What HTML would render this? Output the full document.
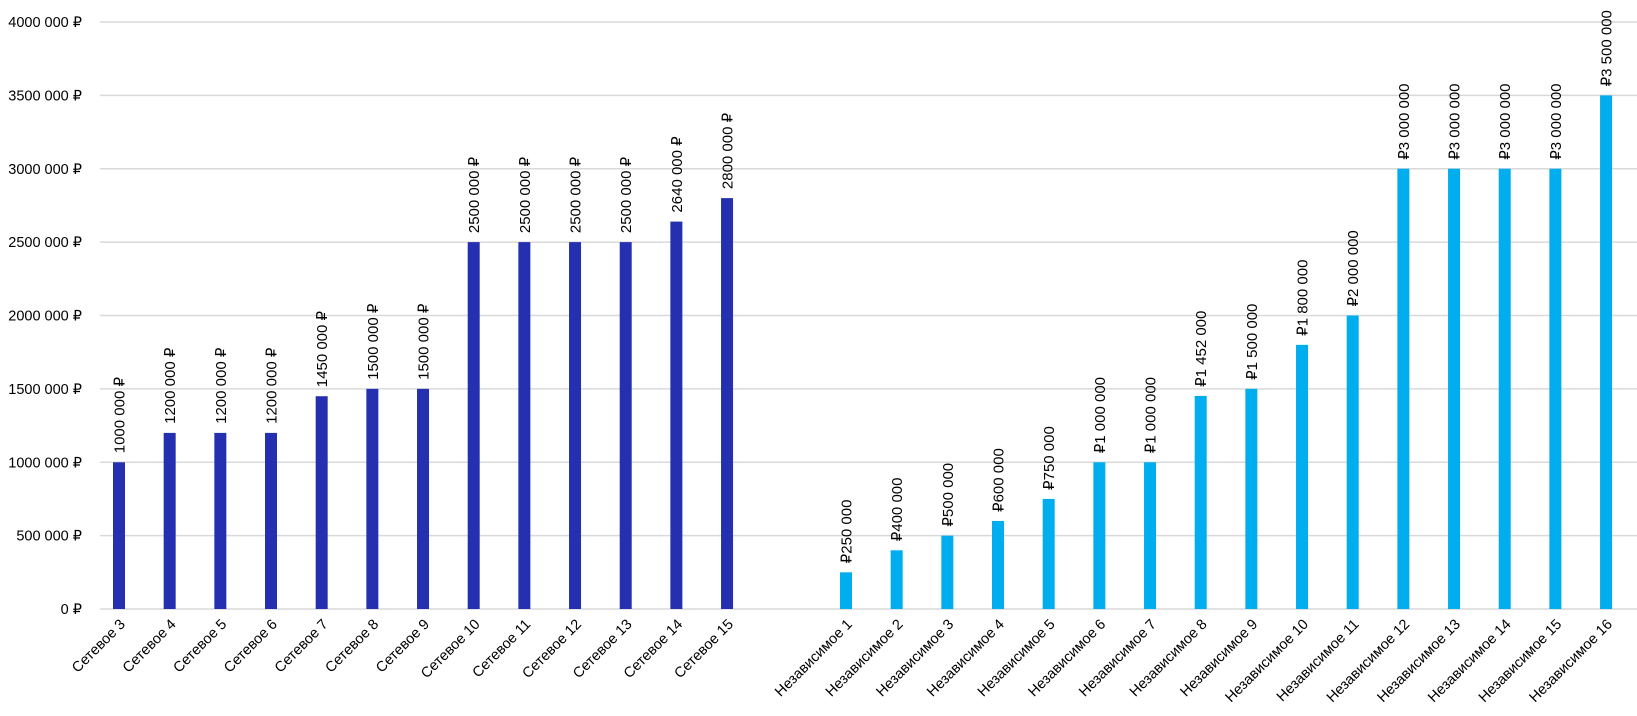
<!DOCTYPE html>
<html><head><meta charset="utf-8"><style>
html,body{margin:0;padding:0;background:#fff;}
svg{display:block;font-family:"Liberation Sans",sans-serif;}
</style></head><body>
<svg id="c" width="1637" height="716" xmlns="http://www.w3.org/2000/svg">
<g id="grid" stroke="#d9d9d9" stroke-width="1.5"></g>
<g id="ylab" font-size="14.5" fill="#000" text-anchor="end"></g>
<g id="bars"></g>
</svg>
<script>
var ns="http://www.w3.org/2000/svg",svg=document.getElementById('c');
function el(t,a,txt,p){var e=document.createElementNS(ns,t);for(var k in a)e.setAttribute(k,a[k]);if(txt!=null)e.textContent=txt;(p||svg).appendChild(e);return e;}
var y0=609,sc=146.75;
var g=document.getElementById('grid'),yl=document.getElementById('ylab');
var ylabels=["0 ₽","500 000 ₽","1000 000 ₽","1500 000 ₽","2000 000 ₽","2500 000 ₽","3000 000 ₽","3500 000 ₽","4000 000 ₽"];
for(var i=0;i<=8;i++){var y=y0-i*0.5*sc;el('line',{x1:100,x2:1637,y1:y,y2:y},null,g);el('text',{x:82,y:y+5},ylabels[i],yl);}
var s=[1000000,1200000,1200000,1200000,1450000,1500000,1500000,2500000,2500000,2500000,2500000,2640000,2800000];
var sl=["1000 000 ₽","1200 000 ₽","1200 000 ₽","1200 000 ₽","1450 000 ₽","1500 000 ₽","1500 000 ₽","2500 000 ₽","2500 000 ₽","2500 000 ₽","2500 000 ₽","2640 000 ₽","2800 000 ₽"];
var n=[250000,400000,500000,600000,750000,1000000,1000000,1452000,1500000,1800000,2000000,3000000,3000000,3000000,3000000,3500000];
var nl=["₽250 000","₽400 000","₽500 000","₽600 000","₽750 000","₽1 000 000","₽1 000 000","₽1 452 000","₽1 500 000","₽1 800 000","₽2 000 000","₽3 000 000","₽3 000 000","₽3 000 000","₽3 000 000","₽3 500 000"];
var sp=50.67,b=document.getElementById('bars');
function bar(cx,v,lab,col,name){var top=y0-v/1e6*sc;
el('rect',{x:cx-6,y:top,width:12,height:y0-top,fill:col},null,b);
el('text',{x:0,y:0,'font-size':15,transform:'translate('+(cx+5.5)+','+(top-9)+') rotate(-90)'},lab,b);
el('text',{x:0,y:0,'font-size':14.5,'text-anchor':'end',transform:'translate('+(cx+7)+','+(y0+16)+') rotate(-45)'},name,b);}
for(var i=0;i<13;i++)bar(119+i*sp,s[i],sl[i],'#2530b0','Сетевое '+(i+3));
for(var i=0;i<16;i++)bar(846+i*sp,n[i],nl[i],'#00aeef','Независимое '+(i+1));
</script>
</body></html>
